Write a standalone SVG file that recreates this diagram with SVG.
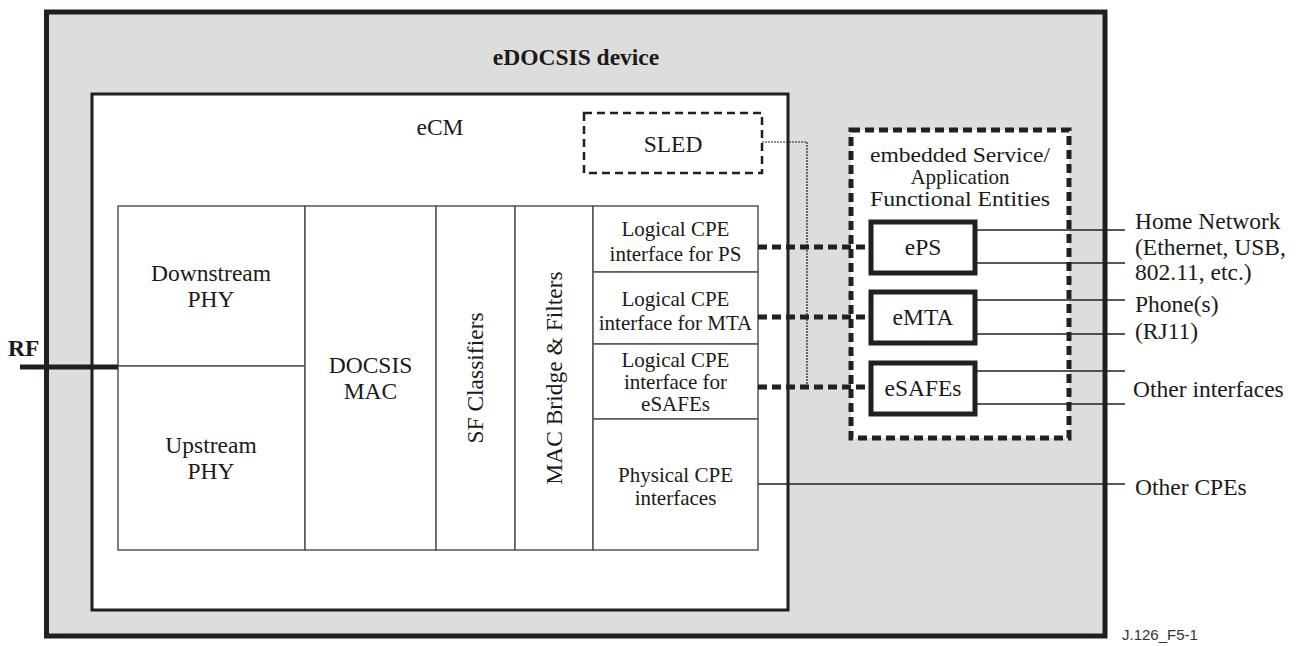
<svg xmlns="http://www.w3.org/2000/svg" width="1302" height="646" viewBox="0 0 1302 646">
<style>
text{font-family:"Liberation Serif","Times New Roman",serif;fill:#1a1a1a}
.t{font-size:23.5px}
.c{font-size:21px}
.m{text-anchor:middle}
.b{font-weight:bold}
.cell{fill:#fff;stroke:#555;stroke-width:1.5}
.ln{stroke:#231f20;stroke-width:1.5;fill:none}
.dash{stroke:#231f20;stroke-width:5;stroke-dasharray:9 5;fill:none}
.ent{fill:#fff;stroke:#231f20;stroke-width:5}
</style>
<rect width="1302" height="646" fill="#fff"/>
<g id="edocsis-device">
<rect x="46.5" y="12" width="1058.5" height="624" fill="#dddddc" stroke="#231f20" stroke-width="5"/>
<text class="t m b" x="576" y="65">eDOCSIS device</text>
</g>
<g id="ecm">
<rect x="92" y="94" width="696" height="516" fill="#fff" stroke="#231f20" stroke-width="3"/>
<text class="t m" x="440" y="135">eCM</text>
</g>
<g id="sled">
<rect x="584" y="113" width="178" height="60" fill="#fff" stroke="#231f20" stroke-width="2.5" stroke-dasharray="8 5"/>
<text class="t m" x="673" y="152">SLED</text>
</g>
<g id="downstream-phy">
<rect class="cell" x="118" y="206" width="187" height="160"/>
<text class="t m" x="211" y="281">Downstream</text>
<text class="t m" x="211" y="307">PHY</text>
</g>
<g id="upstream-phy">
<rect class="cell" x="118" y="366" width="187" height="184"/>
<text class="t m" x="211" y="453">Upstream</text>
<text class="t m" x="211" y="479">PHY</text>
</g>
<g id="docsis-mac">
<rect class="cell" x="305" y="206" width="131" height="344"/>
<text class="t m" x="370.5" y="373">DOCSIS</text>
<text class="t m" x="370.5" y="399">MAC</text>
</g>
<g id="sf-classifiers">
<rect class="cell" x="436" y="206" width="79" height="344"/>
<text class="t m" transform="translate(483,378) rotate(-90)">SF Classifiers</text>
</g>
<g id="mac-bridge">
<rect class="cell" x="515" y="206" width="78" height="344"/>
<text class="t m" transform="translate(562,378) rotate(-90)">MAC Bridge &amp; Filters</text>
</g>
<g id="lcpe-ps">
<rect class="cell" x="593" y="206" width="165" height="66"/>
<text class="c m" x="675.5" y="236">Logical CPE</text>
<text class="c m" x="675.5" y="261">interface for PS</text>
</g>
<g id="lcpe-mta">
<rect class="cell" x="593" y="272" width="165" height="72"/>
<text class="c m" x="675.5" y="306">Logical CPE</text>
<text class="c m" x="675.5" y="330">interface for MTA</text>
</g>
<g id="lcpe-esafes">
<rect class="cell" x="593" y="344" width="165" height="75"/>
<text class="c m" x="675.5" y="367">Logical CPE</text>
<text class="c m" x="675.5" y="389">interface for</text>
<text class="c m" x="675.5" y="411">eSAFEs</text>
</g>
<g id="physical-cpe">
<rect class="cell" x="593" y="419" width="165" height="131"/>
<text class="c m" x="675.5" y="482">Physical CPE</text>
<text class="c m" x="675.5" y="505">interfaces</text>
</g>
<g id="esafe-group">
<rect x="851" y="130" width="218" height="308" fill="#fff" stroke="#231f20" stroke-width="5" stroke-dasharray="9 5"/>
<text class="c m" x="960" y="162" textLength="180" lengthAdjust="spacingAndGlyphs">embedded Service/</text>
<text class="c m" x="960" y="184">Application</text>
<text class="c m" x="960" y="206" textLength="180" lengthAdjust="spacingAndGlyphs">Functional Entities</text>
</g>
<g id="connectors">
<line x1="20" y1="367" x2="118" y2="367" stroke="#231f20" stroke-width="5"/>
<polyline points="762,142 807,142 807,387" fill="none" stroke="#231f20" stroke-width="1.2" stroke-dasharray="2 1"/>
<line class="dash" x1="758" y1="247" x2="871" y2="247"/>
<line class="dash" x1="758" y1="317" x2="871" y2="317"/>
<line class="dash" x1="758" y1="387" x2="871" y2="387"/>
<line class="ln" x1="975" y1="230" x2="1125" y2="230"/>
<line class="ln" x1="975" y1="263" x2="1125" y2="263"/>
<line class="ln" x1="975" y1="300" x2="1125" y2="300"/>
<line class="ln" x1="975" y1="334" x2="1125" y2="334"/>
<line class="ln" x1="975" y1="371" x2="1125" y2="371"/>
<line class="ln" x1="975" y1="404" x2="1125" y2="404"/>
<line class="ln" x1="758" y1="484" x2="1125" y2="484"/>
</g>
<g id="eps">
<rect class="ent" x="871" y="222" width="104" height="51"/>
<text class="t m" x="923" y="255">ePS</text>
</g>
<g id="emta">
<rect class="ent" x="871" y="292" width="104" height="51"/>
<text class="t m" x="923" y="325">eMTA</text>
</g>
<g id="esafes">
<rect class="ent" x="871" y="363" width="104" height="51"/>
<text class="t m" x="923" y="396">eSAFEs</text>
</g>
<g id="labels">
<text class="t b" x="8" y="356">RF</text>
<text class="t" x="1135" y="229">Home Network</text>
<text class="t" x="1135" y="255">(Ethernet, USB,</text>
<text class="t" x="1135" y="280">802.11, etc.)</text>
<text class="t" x="1135" y="312">Phone(s)</text>
<text class="t" x="1135" y="339">(RJ11)</text>
<text class="t" x="1133" y="397">Other interfaces</text>
<text class="t" x="1135" y="495">Other CPEs</text>
<text x="1122" y="640" style="font-family:'Liberation Sans',Arial,sans-serif;font-size:15px;fill:#333">J.126_F5-1</text>
</g>
</svg>
